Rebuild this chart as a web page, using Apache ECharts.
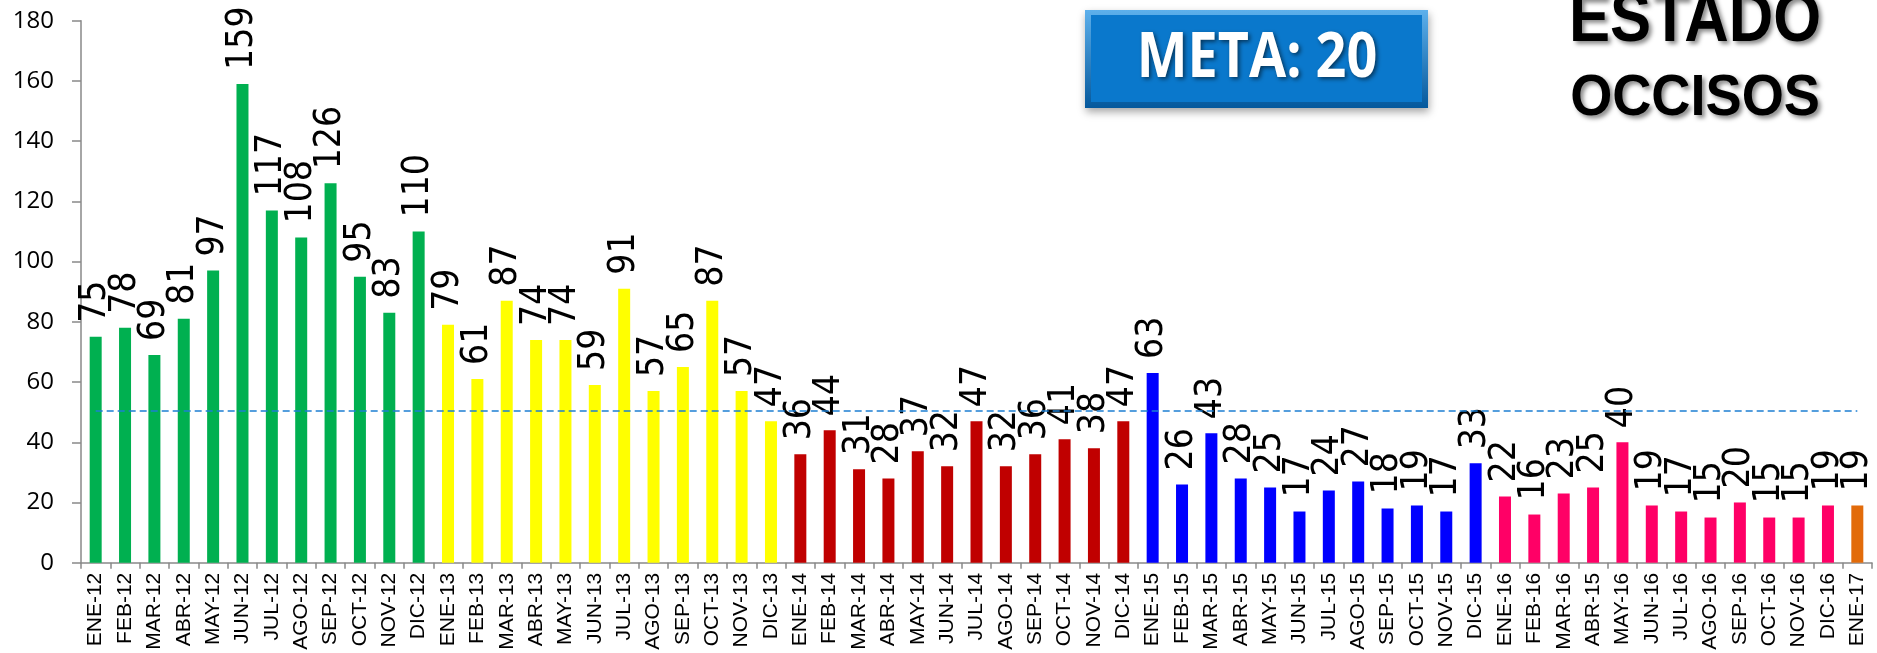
<!DOCTYPE html>
<html><head><meta charset="utf-8">
<script src="https://cdn.jsdelivr.net/npm/echarts@6/dist/echarts.min.js"></script>
<style>html,body{margin:0;padding:0;background:#fff}#c{width:1877px;height:653px}</style>
</head><body><div id="c"></div>
<script>
const categories = [
 'ENE-12','FEB-12','MAR-12','ABR-12','MAY-12','JUN-12','JUL-12','AGO-12','SEP-12','OCT-12','NOV-12','DIC-12',
 'ENE-13','FEB-13','MAR-13','ABR-13','MAY-13','JUN-13','JUL-13','AGO-13','SEP-13','OCT-13','NOV-13','DIC-13',
 'ENE-14','FEB-14','MAR-14','ABR-14','MAY-14','JUN-14','JUL-14','AGO-14','SEP-14','OCT-14','NOV-14','DIC-14',
 'ENE-15','FEB-15','MAR-15','ABR-15','MAY-15','JUN-15','JUL-15','AGO-15','SEP-15','OCT-15','NOV-15','DIC-15',
 'ENE-16','FEB-16','MAR-16','ABR-15','MAY-16','JUN-16','JUL-16','AGO-16','SEP-16','OCT-16','NOV-16','DIC-16',
 'ENE-17'];
const values = [
 75,78,69,81,97,159,117,108,126,95,83,110,
 79,61,87,74,74,59,91,57,65,87,57,47,
 36,44,31,28,37,32,47,32,36,41,38,47,
 63,26,43,28,25,17,24,27,18,19,17,33,
 22,16,23,25,40,19,17,15,20,15,15,19,
 19];
const yearGroup = [
 0,0,0,0,0,0,0,0,0,0,0,0,
 1,1,1,1,1,1,1,1,1,1,1,1,
 2,2,2,2,2,2,2,2,2,2,2,2,
 3,3,3,3,3,3,3,3,3,3,3,3,
 4,4,4,4,4,4,4,4,4,4,4,4,
 5];
const referenceLine = [50.5];
const yTicks = [0,20,40,60,80,100,120,140,160,180];
const groupColors = ['#00B050','#FFFF00','#C00000','#0000FF','#FF0066','#E26B0A'];

const chart = echarts.init(document.getElementById('c'), null, {renderer:'canvas'});
chart.setOption({
  animation:false,
  grid:{left:81,right:5,top:20.7,bottom:90.3,containLabel:false},
  xAxis:{
    type:'category', data:categories,
    axisLine:{lineStyle:{color:'#898989',width:1.5}},
    axisTick:{show:true,length:6,lineStyle:{color:'#898989',width:1.5}},
    axisLabel:{rotate:90,interval:0,margin:10,color:'#000',fontFamily:'Liberation Sans',fontSize:21}
  },
  yAxis:{
    type:'value', min:yTicks[0], max:yTicks[yTicks.length-1], interval:20,
    splitLine:{show:false},
    axisLine:{show:true,lineStyle:{color:'#898989',width:1.5}},
    axisTick:{show:true,inside:false,length:9,lineStyle:{color:'#898989',width:1.5}},
    axisLabel:{margin:27,color:'#000',fontFamily:'Open Sans',fontSize:24}
  },
  series:[{
    type:'bar',
    barWidth:12,
    data: values.map((v,i)=>({value:v,itemStyle:{color:groupColors[yearGroup[i]]}})),
    label:{show:true,position:'top',rotate:90,align:'left',verticalAlign:'middle',distance:14,
      color:'#000',fontFamily:'"DejaVu Sans Condensed", "DejaVu Sans"',fontSize:37},
    markLine:{
      silent:true,symbol:['none','none'],
      label:{show:false},
      lineStyle:{color:'#1C7FD2',type:[7,4],width:1.5},
      data:[[{coord:[0,referenceLine[0]]},{coord:[categories.length-1,referenceLine[0]]}]]
    }
  }],
  graphic:[
    {type:'rect',shape:{x:1085,y:10,width:343,height:98},
      style:{fill:new echarts.graphic.LinearGradient(0,0,0,1,[{offset:0,color:'#5DB0EC'},{offset:1,color:'#04589C'}]),
        shadowBlur:8,shadowColor:'rgba(0,0,0,0.35)',shadowOffsetY:4,shadowOffsetX:1}},
    {type:'rect',shape:{x:1091,y:15,width:331,height:87},style:{fill:'#0A78CC'}},
    {type:'text',x:1257,y:59,scaleX:0.87,
      style:{text:'META: 20',fill:'#fff',font:'bold 62px "Open Sans"',align:'center',verticalAlign:'middle',
        textShadowColor:'rgba(0,0,0,0.55)',textShadowBlur:4,textShadowOffsetX:2,textShadowOffsetY:2}},
    {type:'text',x:1695,y:22,scaleX:0.88,
      style:{text:'ESTADO',fill:'#000',font:'bold 70px "Liberation Sans"',align:'center',verticalAlign:'middle',
        textShadowColor:'rgba(0,0,0,0.45)',textShadowBlur:4,textShadowOffsetX:3,textShadowOffsetY:3}},
    {type:'text',x:1695,y:99,scaleX:0.95,
      style:{text:'OCCISOS',fill:'#000',font:'bold 57px "Liberation Sans"',align:'center',verticalAlign:'middle',
        textShadowColor:'rgba(0,0,0,0.45)',textShadowBlur:4,textShadowOffsetX:3,textShadowOffsetY:3}}
  ]
});
</script></body></html>
